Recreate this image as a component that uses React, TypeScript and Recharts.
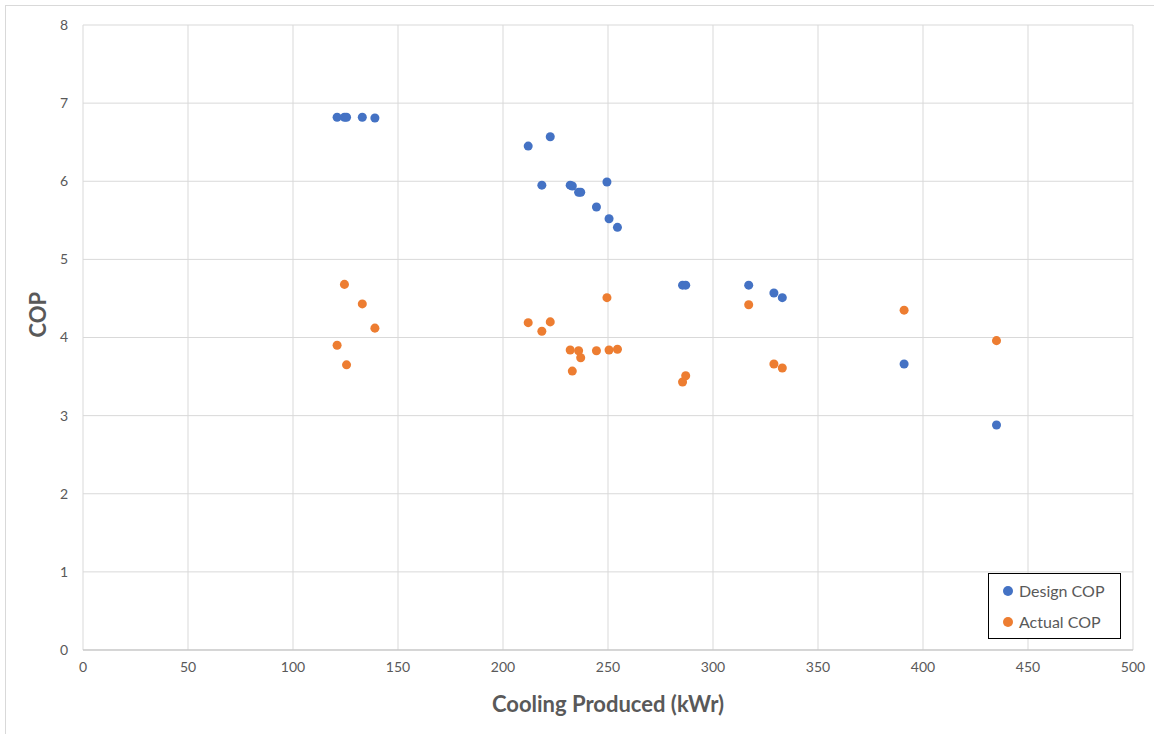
import {
  CartesianGrid,
  Scatter,
  ScatterChart,
  XAxis,
  YAxis,
  ZAxis,
} from 'recharts';

// cooling produced (kWr) for each chiller reading
const cooling = [
  121, 124.5, 125.5, 133, 139, 212, 218.5, 222.5, 232, 233, 236, 237, 244.5,
  249.5, 250.5, 254.5, 285.5, 287, 317, 329, 333, 391, 435,
];

const designCop = [
  6.82, 6.82, 6.82, 6.82, 6.81, 6.45, 5.95, 6.57, 5.95, 5.94, 5.86, 5.86, 5.67,
  5.99, 5.52, 5.41, 4.67, 4.67, 4.67, 4.57, 4.51, 3.66, 2.88,
];

const actualCop = [
  3.9, 4.68, 3.65, 4.43, 4.12, 4.19, 4.08, 4.2, 3.84, 3.57, 3.83, 3.74, 3.83,
  4.51, 3.84, 3.85, 3.43, 3.51, 4.42, 3.66, 3.61, 4.35, 3.96,
];

const xTicks = [0, 50, 100, 150, 200, 250, 300, 350, 400, 450, 500];
const yTicks = [0, 1, 2, 3, 4, 5, 6, 7, 8];

const designData = cooling.map((x, i) => ({ x, y: designCop[i] }));
const actualData = cooling.map((x, i) => ({ x, y: actualCop[i] }));

const series = [
  { name: 'Design COP', color: '#4472C4' },
  { name: 'Actual COP', color: '#ED7D31' },
];

const font = 'Lato, "Open Sans", sans-serif';
const textGrey = '#595959';

// legend box sits over the lower right corner of the plot
function LegendBox() {
  return (
    <div
      style={{
        position: 'absolute',
        left: 988,
        top: 573,
        width: 133,
        height: 66,
        border: '1.5px solid #000',
        background: '#fff',
        boxSizing: 'border-box',
        paddingTop: 1,
      }}
    >
      {series.map((s) => (
        <div
          key={s.name}
          style={{
            display: 'flex',
            alignItems: 'center',
            height: 31,
            fontFamily: font,
            fontSize: 16,
            color: textGrey,
          }}
        >
          <span
            style={{
              display: 'inline-block',
              width: 10,
              height: 10,
              borderRadius: '50%',
              background: s.color,
              marginLeft: 14,
              marginRight: 6,
            }}
          />
          {s.name}
        </div>
      ))}
    </div>
  );
}

export default function App() {
  return (
    <div
      style={{
        position: 'absolute',
        left: 0,
        top: 0,
        width: 1154,
        height: 734,
        overflow: 'hidden',
        background: '#fff',
      }}
    >
      <div
        style={{
          position: 'absolute',
          left: 5,
          top: 5,
          width: 1170,
          height: 760,
          border: '1px solid #d9d9d9',
        }}
      />
      <div style={{ position: 'absolute', left: 0, top: 0 }}>
        <ScatterChart
          width={1154}
          height={734}
          margin={{ top: 25, right: 21, bottom: 14, left: 23 }}
        >
          <CartesianGrid stroke="#d9d9d9" strokeWidth={1} />
          <XAxis
            type="number"
            dataKey="x"
            domain={[0, 500]}
            ticks={xTicks}
            height={70}
            tickLine={false}
            tickSize={0}
            tickMargin={12}
            axisLine={{ stroke: '#bfbfbf' }}
            tick={{ fill: textGrey, fontSize: 14, fontFamily: font }}
            label={{
              value: 'Cooling Produced (kWr)',
              position: 'insideBottom',
              offset: 8,
              fill: textGrey,
              fontSize: 22,
              fontWeight: 700,
              fontFamily: font,
            }}
          />
          <YAxis
            type="number"
            dataKey="y"
            domain={[0, 8]}
            ticks={yTicks}
            width={60}
            tickLine={false}
            tickSize={0}
            tickMargin={15}
            axisLine={false}
            tick={{ fill: textGrey, fontSize: 14, fontFamily: font }}
            label={{
              value: 'COP',
              angle: -90,
              position: 'insideLeft',
              offset: 15,
              fill: textGrey,
              fontSize: 22,
              fontWeight: 700,
              fontFamily: font,
            }}
          />
          <ZAxis range={[95, 95]} />
          <Scatter
            name="Design COP"
            data={designData}
            fill={series[0].color}
            shape="circle"
            isAnimationActive={false}
          />
          <Scatter
            name="Actual COP"
            data={actualData}
            fill={series[1].color}
            shape="circle"
            isAnimationActive={false}
          />
        </ScatterChart>
      </div>
      <LegendBox />
    </div>
  );
}
